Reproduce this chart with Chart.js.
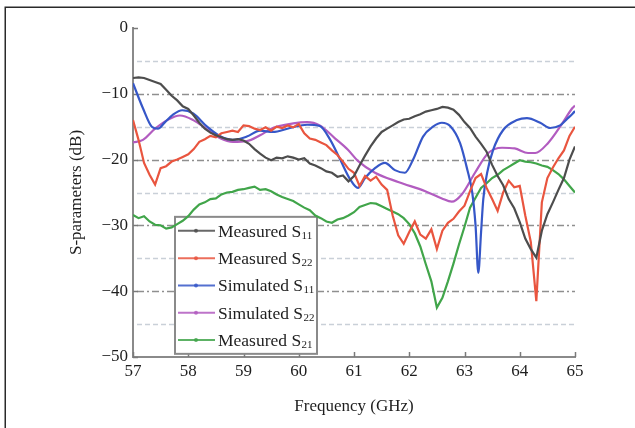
<!DOCTYPE html>
<html>
<head>
<meta charset="utf-8">
<script src="https://cdn.jsdelivr.net/npm/chart.js@4.4.0/dist/chart.umd.min.js"></script>
<style>
html,body{margin:0;padding:0;background:#fff;}
#wrap{position:relative;width:635px;height:428px;}
</style>
</head>
<body>
<div id="wrap"><canvas id="c" width="635" height="428"></canvas></div>
<script>
// ---- data ----
const freqMeas = [57.0,57.1,57.2,57.3,57.4,57.5,57.6,57.7,57.8,57.9,
  58.0,58.1,58.2,58.3,58.4,58.5,58.6,58.7,58.8,58.9,
  59.0,59.1,59.2,59.3,59.4,59.5,59.6,59.7,59.8,59.9,
  60.0,60.1,60.2,60.3,60.4,60.5,60.6,60.7,60.8,60.9,
  61.0,61.1,61.2,61.3,61.4,61.5,61.6,61.7,61.8,61.9,
  62.0,62.1,62.2,62.3,62.4,62.5,62.6,62.7,62.8,62.9,
  63.0,63.1,63.2,63.3,63.4,63.5,63.6,63.7,63.8,63.9,
  64.0,64.1,64.2,64.3,64.4,64.5,64.6,64.7,64.8,64.9,65.0];

const measS11 = [-7.6,-7.5,-7.6,-7.9,-8.2,-8.5,-9.4,-10.3,-11.0,-11.9,
  -12.3,-13.3,-14.4,-15.3,-15.9,-16.3,-16.6,-16.9,-17.0,-16.9,
  -17.1,-17.6,-18.4,-19.1,-19.7,-20.1,-19.7,-19.8,-19.5,-19.7,
  -20.0,-19.8,-20.6,-20.9,-21.3,-21.8,-22.0,-22.6,-22.4,-23.3,
  -22.5,-20.9,-19.4,-18.0,-16.8,-15.8,-15.3,-14.8,-14.3,-13.9,
  -13.8,-13.4,-13.1,-12.7,-12.5,-12.3,-12.0,-12.1,-12.4,-13.2,
  -14.3,-15.2,-16.5,-17.6,-18.8,-20.8,-22.5,-23.9,-26.0,-27.4,
  -29.5,-32.0,-33.6,-34.9,-30.8,-28.3,-26.5,-24.6,-22.8,-20.0,-18.0];

const measS22 = [-14.0,-17.0,-20.5,-22.3,-23.8,-21.3,-21.0,-20.3,-20.0,-19.6,
  -19.2,-18.4,-17.3,-16.9,-16.4,-16.6,-16.0,-15.8,-15.6,-15.8,
  -14.8,-14.9,-15.3,-15.5,-15.1,-15.6,-15.0,-15.2,-14.8,-15.1,
  -14.6,-16.0,-16.8,-17.0,-17.4,-17.8,-18.6,-19.3,-20.3,-21.4,
  -22.0,-24.0,-22.5,-23.2,-22.6,-23.8,-24.6,-28.5,-31.5,-32.8,
  -31.0,-29.4,-31.4,-32.0,-30.6,-33.6,-30.8,-29.6,-29.0,-27.9,
  -27.0,-24.8,-22.8,-22.2,-24.3,-26.0,-27.8,-25.0,-23.2,-24.2,
  -24.0,-28.5,-32.5,-41.5,-26.5,-22.8,-21.2,-19.8,-18.6,-16.4,-15.0];

const measS21 = [-28.4,-28.9,-28.6,-29.4,-29.9,-30.0,-30.5,-30.3,-29.8,-29.3,
  -28.6,-27.6,-26.8,-26.5,-26.0,-25.9,-25.3,-25.0,-24.9,-24.6,
  -24.5,-24.3,-24.1,-24.6,-24.5,-24.8,-25.3,-25.7,-26.0,-26.3,
  -26.8,-27.3,-27.7,-28.5,-28.9,-29.4,-29.6,-29.1,-28.9,-28.5,
  -28.0,-27.2,-26.9,-26.6,-26.7,-27.1,-27.5,-27.9,-28.3,-28.9,
  -29.8,-31.2,-33.2,-35.9,-38.5,-42.5,-41.0,-38.5,-35.8,-32.9,
  -30.2,-27.3,-25.8,-24.3,-23.6,-22.8,-22.3,-21.6,-21.1,-20.6,
  -20.1,-20.3,-20.4,-20.6,-20.9,-21.1,-21.6,-22.2,-23.0,-24.0,-25.0];

const freqSimS11 = [57.0,57.18,57.34,57.45,57.58,57.72,57.89,58.09,58.34,58.57,
  58.81,59.06,59.3,59.53,59.84,60.15,60.38,60.57,60.75,60.93,
  61.07,61.2,61.38,61.56,61.74,61.92,62.07,62.25,62.43,62.59,
  62.74,62.92,63.05,63.14,63.2,63.25,63.3,63.34,63.41,63.52,
  63.7,63.95,64.13,64.37,64.55,64.73,64.86,64.96,65.0];
const simS11 = [-8.4,-12.2,-15.0,-15.3,-14.3,-13.2,-12.5,-13.0,-15.0,-16.4,
  -17.0,-16.5,-15.6,-15.8,-15.2,-14.7,-14.9,-17.0,-20.0,-23.0,
  -24.3,-22.8,-21.3,-20.5,-21.6,-22.0,-20.0,-16.5,-15.0,-14.4,
  -14.9,-17.5,-21.5,-25.0,-30.0,-37.2,-31.0,-26.0,-22.0,-18.5,
  -15.5,-14.0,-13.7,-14.4,-15.2,-14.8,-13.8,-13.0,-12.6];

const freqSimS22 = [57.0,57.18,57.4,57.62,57.85,58.09,58.34,58.57,58.81,59.06,
  59.3,59.53,59.9,60.15,60.38,60.66,60.89,61.07,61.38,61.8,
  62.29,62.59,62.77,62.95,63.19,63.43,63.68,63.91,64.15,64.28,
  64.51,64.77,64.95,65.0];
const simS22 = [-17.4,-17.0,-15.3,-14.0,-13.3,-14.0,-15.4,-16.7,-17.3,-17.2,
  -16.3,-15.2,-14.5,-14.3,-14.8,-16.8,-18.5,-20.2,-22.0,-23.4,
  -24.8,-25.9,-26.4,-25.3,-22.0,-19.0,-18.2,-18.3,-19.0,-19.0,
  -17.5,-14.5,-12.2,-11.8];

const legendNames = ['Measured S', 'Measured S', 'Simulated S', 'Simulated S', 'Measured S'];
const legendSubs = ['11', '22', '11', '22', '21'];
const seriesColors = ['#4d4d4d', '#e9553f', '#3657c8', '#b25cc0', '#41a54a'];
const gridValues = [-5, -10, -15, -20, -25, -30, -35, -40, -45];

// ---- helpers ----
function pairs(fx, vy) { return fx.map((f, i) => ({ x: f, y: vy[i] })); }
const SERIF = '"Liberation Serif", "DejaVu Serif", "Times New Roman", serif';

const decor = {
  id: 'decor',
  beforeDraw(chart) {
    const c = chart.ctx;
    c.save();
    c.strokeStyle = '#2a2a2a';
    c.lineWidth = 1.5;
    c.beginPath();
    c.moveTo(5.25, 428); c.lineTo(5.25, 7.25); c.lineTo(635, 7.25);
    c.stroke();
    c.restore();
  },
  beforeDatasetsDraw(chart) {
    const c = chart.ctx, ys = chart.scales.y, xs = chart.scales.x;
    const a = chart.chartArea;
    c.save();
    // grid lines
    gridValues.forEach(v => {
      const y = Math.round(ys.getPixelForValue(v)) + 0.5;
      const major = v % 10 === 0;
      c.beginPath();
      c.strokeStyle = major ? '#8f8f8f' : '#c9d0d8';
      c.lineWidth = major ? 1.6 : 1.3;
      c.setLineDash(major ? [7, 3, 2, 3] : [5, 3]);
      c.moveTo(a.left + 4, y); c.lineTo(a.right, y);
      c.stroke();
    });
    c.setLineDash([]);
    // inward ticks
    c.strokeStyle = '#7a7a7a';
    c.lineWidth = 1.5;
    xs.ticks.forEach(t => {
      const x = Math.round(xs.getPixelForValue(t.value)) + 0.5;
      c.beginPath(); c.moveTo(x, a.bottom); c.lineTo(x, a.bottom - 5); c.stroke();
    });
    ys.ticks.forEach(t => {
      const y = Math.round(ys.getPixelForValue(t.value)) + 0.5;
      c.beginPath(); c.moveTo(a.left, y); c.lineTo(a.left + 5, y); c.stroke();
    });
    // legend box
    const bx = xs.getPixelForValue(57) + 42, by = ys.getPixelForValue(-28.7);
    const bw = 142, bh = 137;
    c.fillStyle = '#ffffff';
    c.fillRect(bx, by, bw, bh);
    c.strokeStyle = '#8a8a8a';
    c.lineWidth = 2;
    c.strokeRect(bx, by, bw, bh);
    const rowH = 27.3;
    legendNames.forEach((name, i) => {
      const cy = by + 14 + i * rowH;
      c.strokeStyle = seriesColors[i];
      c.lineWidth = 2;
      c.globalAlpha = 0.85;
      c.beginPath(); c.moveTo(bx + 3, cy); c.lineTo(bx + 40, cy); c.stroke();
      c.fillStyle = seriesColors[i];
      c.beginPath(); c.arc(bx + 21, cy, 2, 0, Math.PI * 2); c.fill();
      c.globalAlpha = 1;
      c.fillStyle = '#1e1e1e';
      c.textBaseline = 'alphabetic';
      c.textAlign = 'left';
      c.font = '17.5px ' + SERIF;
      const tx = bx + 43;
      c.fillText(name, tx, cy + 6);
      const w = c.measureText(name).width;
      c.font = '11px ' + SERIF;
      c.fillText(legendSubs[i], tx + w + 0.5, cy + 8);
    });
    c.restore();
  }
};

const commonLine = { pointRadius: 0, borderWidth: 2.2, fill: false };

new Chart(document.getElementById('c'), {
  type: 'line',
  data: {
    datasets: [
      Object.assign({ label: 'Measured S11', data: pairs(freqMeas, measS11), borderColor: seriesColors[0], tension: 0 }, commonLine),
      Object.assign({ label: 'Measured S22', data: pairs(freqMeas, measS22), borderColor: seriesColors[1], tension: 0 }, commonLine),
      Object.assign({ label: 'Simulated S11', data: pairs(freqSimS11, simS11), borderColor: seriesColors[2], cubicInterpolationMode: 'monotone' }, commonLine),
      Object.assign({ label: 'Simulated S22', data: pairs(freqSimS22, simS22), borderColor: seriesColors[3], cubicInterpolationMode: 'monotone' }, commonLine),
      Object.assign({ label: 'Measured S21', data: pairs(freqMeas, measS21), borderColor: seriesColors[4], tension: 0 }, commonLine)
    ]
  },
  options: {
    responsive: false,
    animation: false,
    events: [],
    layout: { padding: { top: 28, right: 60, left: 0, bottom: 0 } },
    plugins: { legend: { display: false }, tooltip: { enabled: false } },
    scales: {
      x: {
        type: 'linear', min: 57, max: 65,
        ticks: { stepSize: 1, color: '#1e1e1e', padding: 4, font: { family: SERIF, size: 17 }, maxRotation: 0 },
        grid: { display: false, drawTicks: false },
        border: { display: true, color: '#8a8a8a', width: 2 },
        title: { display: true, text: 'Frequency (GHz)', color: '#1e1e1e', font: { family: SERIF, size: 17 }, padding: { top: 0, bottom: 11 } },
        afterFit(s) { s.height = 71; }
      },
      y: {
        type: 'linear', min: -50, max: 0,
        ticks: { stepSize: 10, color: '#1e1e1e', padding: 5, font: { family: SERIF, size: 17 },
          callback: v => (v < 0 ? '\u2212' + Math.abs(v) : String(v)) },
        grid: { display: false, drawTicks: false },
        border: { display: true, color: '#8a8a8a', width: 2 },
        title: { display: true, text: 'S-parameters (dB)', color: '#1e1e1e', font: { family: SERIF, size: 17 }, padding: { top: 66, bottom: 0 } },
        afterFit(s) { s.width = 133; }
      }
    }
  },
  plugins: [decor]
});
</script>
</body>
</html>
